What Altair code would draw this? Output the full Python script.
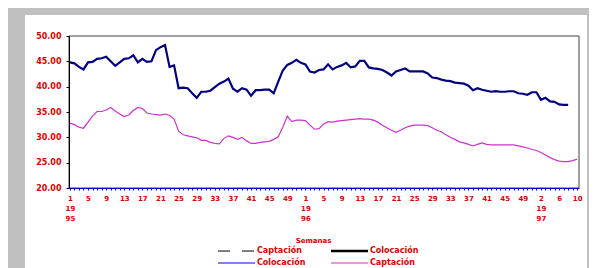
import json
import altair as alt
import pandas as pd

# ---- data (weekly, 1995 wk1 .. 1997 wk10) ----
colocacion = [
    44.8, 44.6, 43.9, 43.4, 44.8, 44.9, 45.5, 45.6, 45.9, 45.0,
    44.1, 44.8, 45.5, 45.6, 46.2, 44.8, 45.5, 44.9, 45.0, 47.2,
    47.8, 48.2, 43.9, 44.2, 39.7, 39.8, 39.7, 38.7, 37.8, 39.0,
    39.0, 39.2, 39.9, 40.6, 41.0, 41.6, 39.6, 39.0, 39.7, 39.4,
    38.2, 39.3, 39.3, 39.4, 39.4, 38.7, 41.0, 43.2, 44.3, 44.7,
    45.3, 44.7, 44.4, 43.0, 42.8, 43.3, 43.4, 44.4, 43.4, 43.9,
    44.2, 44.7, 43.8, 44.0, 45.1, 45.1, 43.8, 43.6, 43.5, 43.3,
    42.8, 42.2, 43.0, 43.3, 43.6, 43.0, 43.0, 43.0, 43.0, 42.6,
    41.8, 41.7, 41.4, 41.2, 41.1, 40.8, 40.7, 40.6, 40.2, 39.3,
    39.7, 39.4, 39.2, 39.0, 39.1, 39.0, 39.0, 39.1, 39.1, 38.7,
    38.6, 38.4, 38.9, 38.9, 37.4, 37.8, 37.1, 37.0, 36.5, 36.4,
    36.4,
]
captacion = [
    32.8, 32.5, 32.0, 31.8, 33.0, 34.2, 35.1, 35.1, 35.4, 35.9,
    35.2, 34.6, 34.1, 34.4, 35.3, 35.9, 35.7, 34.8, 34.6, 34.5,
    34.4, 34.6, 34.3, 33.6, 31.2, 30.5, 30.3, 30.1, 29.9, 29.4,
    29.4, 29.0, 28.8, 28.7, 29.8, 30.3, 30.0, 29.6, 30.0, 29.3,
    28.8, 28.8, 29.0, 29.1, 29.2, 29.6, 30.1, 32.0, 34.2, 33.1,
    33.4, 33.4, 33.3, 32.4, 31.6, 31.7, 32.6, 33.1, 33.0, 33.2,
    33.3, 33.4, 33.5, 33.6, 33.7, 33.6, 33.6, 33.4, 33.0, 32.4,
    31.9, 31.4, 31.0, 31.4, 31.9, 32.2, 32.4, 32.4, 32.4, 32.3,
    31.9, 31.4, 31.1, 30.5, 30.0, 29.6, 29.1, 28.9, 28.6, 28.3,
    28.6, 28.9, 28.6, 28.5, 28.5, 28.5, 28.5, 28.5, 28.5, 28.3,
    28.1, 27.9, 27.6, 27.4, 27.0, 26.5, 26.0, 25.6, 25.3, 25.2,
    25.2, 25.4, 25.7,
]
weeks_1995 = list(range(1, 53))
weeks_1996 = list(range(1, 53))
weeks_1997 = list(range(2, 11))
year_starts = {0: ["19", "95"], 52: ["19", "96"], 104: ["19", "97"]}
y_ticks = [20, 25, 30, 35, 40, 45, 50]

legend_labels = ["Captación", "Colocación", "Colocación", "Captación"]
legend_colors = ["#000000", "#000000", "#0000ff", "#cc33cc"]
legend_dash = [[12, 12], [1, 0], [1, 0], [1, 0]]
legend_width = [1, 2.5, 1, 1]

# ---- build table ----
week_num = weeks_1995 + weeks_1996 + weeks_1997
n = len(week_num)
df = pd.DataFrame({
    "idx": list(range(n)),
    "colocacion": colocacion + [None] * (n - len(colocacion)),
    "captacion": captacion,
})

tick_labels = []
for i in range(0, n, 4):
    if i in year_starts:
        tick_labels.append([str(week_num[i])] + year_starts[i])
    else:
        tick_labels.append(str(week_num[i]))
label_expr = f"datum.value % 4 == 0 ? {json.dumps(tick_labels)}[datum.value / 4] : ''"

RED = "#e00000"
FONT = "DejaVu Sans"
W, H = 510, 152

x_axis = alt.Axis(
    values=list(range(n)), labelExpr=label_expr, labelOverlap=False,
    labelFlush=False, labelBound=False, grid=False, zindex=1,
    domainColor="#0000cc", tickColor="#0000cc", tickSize=2,
    labelFontSize=7, labelLineHeight=10, labelPadding=4, labelBaseline="top",
    labelFont=FONT, labelFontWeight="bold", labelColor=RED,
    title="Semanas", titleX=244, titleY=48, titleFontSize=7,
    titleColor=RED, titleFont=FONT, titleFontWeight="bold",
)
x_enc = alt.X("idx:Q", scale=alt.Scale(domain=[-0.2, 112.4], nice=False, zero=False),
              axis=x_axis)
y_scale = alt.Scale(domain=[20, 50], nice=False, zero=False)
y_axis = alt.Axis(values=y_ticks, format=".2f", title=None, grid=False, zindex=1,
                  domainColor="#000000", tickColor="#000000", tickSize=3,
                  labelFontSize=8, labelPadding=5,
                  labelFont=FONT, labelFontWeight="bold", labelColor=RED)

one = pd.DataFrame({"k": [0]})

panel = alt.Chart(one).mark_rect(color="white").encode(
    x=alt.value(-44), x2=alt.value(518), y=alt.value(-21), y2=alt.value(240)
)
frame = alt.Chart(one).mark_rect(fillOpacity=0, stroke="#404040", strokeWidth=1).encode(
    x=alt.value(0), x2=alt.value(W), y=alt.value(0), y2=alt.value(H)
)

line_col = alt.Chart(df).mark_line(color="#000080", strokeWidth=2.2).encode(
    x=x_enc, y=alt.Y("colocacion:Q", scale=y_scale, axis=y_axis)
)
line_cap = alt.Chart(df).mark_line(color="#cc33cc", strokeWidth=1.2).encode(
    x=x_enc, y=alt.Y("captacion:Q", scale=y_scale, axis=y_axis)
)

legend_x = [149, 262, 149, 262]
legend_y = [215, 215, 227, 227]
legend_layers = []
for i, lab in enumerate(legend_labels):
    lx = legend_x[i]
    ly = legend_y[i]
    legend_layers.append(
        alt.Chart(one).mark_rule(color=legend_colors[i], strokeWidth=legend_width[i],
                                 strokeDash=legend_dash[i]).encode(
            x=alt.value(lx), x2=alt.value(lx + 37), y=alt.value(ly)
        )
    )
    legend_layers.append(
        alt.Chart(one).mark_text(align="left", baseline="middle", font=FONT,
                                 fontWeight="bold", fontSize=8, color=RED).encode(
            x=alt.value(lx + 39), y=alt.value(ly), text=alt.value(lab)
        )
    )

chart = alt.layer(panel, frame, line_col, line_cap, *legend_layers).properties(
    width=W, height=H,
    padding={"left": 61, "top": 28, "right": 10, "bottom": 80},
    autosize=alt.AutoSizeParams(type="none"),
    background="#c0c0c0",
).configure_view(strokeWidth=0)

chart.save("out.html", embed_options={"renderer": "svg", "actions": False})
